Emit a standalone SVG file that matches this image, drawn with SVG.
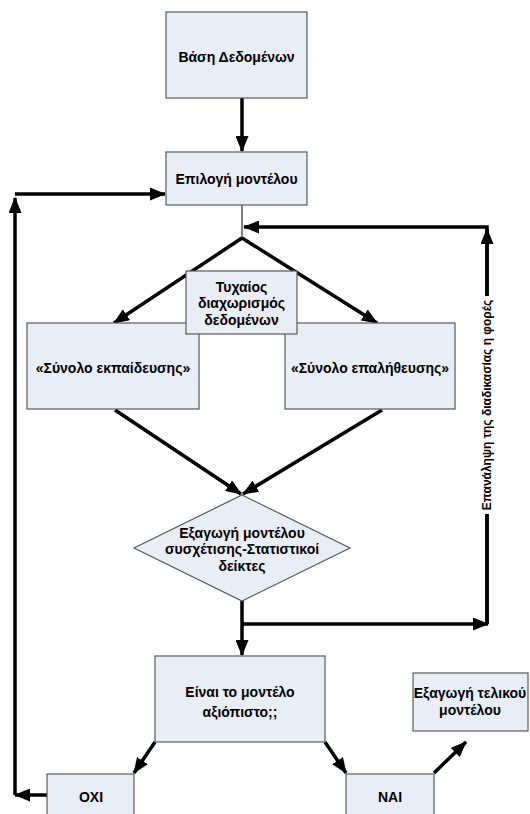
<svg xmlns="http://www.w3.org/2000/svg" width="530" height="814" viewBox="0 0 530 814">
<style>
.box{fill:#E8EDF6;stroke:#5a5a5a;stroke-width:1.2}
.t{font-family:"Liberation Sans",Arial,sans-serif;font-weight:bold;font-size:14px;fill:#000;text-anchor:middle}
.lbl{font-family:"Liberation Sans",Arial,sans-serif;font-weight:bold;font-size:12px;fill:#000;text-anchor:middle}
.c{fill:none;stroke:#000;stroke-width:3.5}
.thin{fill:none;stroke:#000;stroke-width:1}
</style>
<defs>
<marker id="ah" markerUnits="userSpaceOnUse" markerWidth="16" markerHeight="13" refX="15" refY="6.5" orient="auto">
<path d="M0,0 L16,6.5 L0,13 Z" fill="#000"/>
</marker>
</defs>
<rect width="530" height="814" fill="#fff"/>
<g id="connectors">
<line class="c" x1="242" y1="98" x2="242" y2="151" marker-end="url(#ah)"/>
<line class="thin" x1="242" y1="205" x2="242" y2="238"/>
<polyline class="c" points="487,624 487,227 244,227" marker-end="url(#ah)"/>
<line class="c" x1="487" y1="624" x2="487" y2="229" marker-end="url(#ah)"/>
<line class="c" x1="242" y1="238" x2="114" y2="323" marker-end="url(#ah)"/>
<line class="c" x1="242" y1="238" x2="377" y2="323" marker-end="url(#ah)"/>
<line class="c" x1="115" y1="410" x2="241" y2="494" marker-end="url(#ah)"/>
<line class="c" x1="382" y1="410" x2="243" y2="494" marker-end="url(#ah)"/>
<line class="c" x1="242" y1="601" x2="242" y2="655" marker-end="url(#ah)"/>
<line class="c" x1="242" y1="624" x2="488" y2="624" marker-end="url(#ah)"/>
<line class="c" x1="47" y1="795" x2="15" y2="795" marker-end="url(#ah)"/>
<line class="c" x1="15" y1="795" x2="15" y2="198" marker-end="url(#ah)"/>
<line class="c" x1="15" y1="194" x2="165" y2="194" marker-end="url(#ah)"/>
<line class="c" x1="155" y1="742" x2="134" y2="773" marker-end="url(#ah)"/>
<line class="c" x1="325" y1="742" x2="346" y2="773" marker-end="url(#ah)"/>
<line class="c" x1="434" y1="773" x2="466" y2="742" marker-end="url(#ah)"/>
<rect x="479" y="296" width="16" height="218" fill="#fff"/>
<text class="lbl" transform="translate(491,405) rotate(-90)">Επανάληψη της διαδικασίας η φορές</text>
</g>
<g id="n_base">
<rect class="box" x="166" y="12" width="141" height="86"/>
<text class="t" x="236.5" y="62">Βάση Δεδομένων</text>
</g>
<g id="n_select">
<rect class="box" x="166" y="152" width="141" height="53"/>
<text class="t" x="236.5" y="184">Επιλογή μοντέλου</text>
</g>
<g id="n_train">
<rect class="box" x="27" y="323" width="172" height="86"/>
<text class="t" x="113" y="373">«Σύνολο εκπαίδευσης»</text>
</g>
<g id="n_valid">
<rect class="box" x="285" y="323" width="170" height="86"/>
<text class="t" x="370" y="373">«Σύνολο επαλήθευσης»</text>
</g>
<g id="n_split">
<rect class="box" x="186" y="271" width="111" height="63"/>
<text class="t" x="241.5" y="292">Τυχαίος</text>
<text class="t" x="241.5" y="308">διαχωρισμός</text>
<text class="t" x="241.5" y="325">δεδομένων</text>
</g>
<g id="n_extract">
<polygon class="box" points="242,495 350,548 242,601 134,548"/>
<text class="t" x="242" y="538">Εξαγωγή μοντέλου</text>
<text class="t" x="242" y="554">συσχέτισης-Στατιστικοί</text>
<text class="t" x="242" y="571">δείκτες</text>
</g>
<g id="n_reliable">
<rect class="box" x="155" y="656" width="170" height="86"/>
<text class="t" x="240" y="697">Είναι το μοντέλο</text>
<text class="t" x="240" y="717">αξιόπιστο;;</text>
</g>
<g id="n_final">
<rect class="box" x="413" y="673" width="115" height="58"/>
<text class="t" x="470" y="698">Εξαγωγή τελικού</text>
<text class="t" x="470" y="715">μοντέλου</text>
</g>
<g id="n_no">
<rect class="box" x="47" y="774" width="87" height="50"/>
<text class="t" x="91" y="802">ΟΧΙ</text>
</g>
<g id="n_yes">
<rect class="box" x="346" y="774" width="88" height="50"/>
<text class="t" x="390" y="802">ΝΑΙ</text>
</g>
</svg>
